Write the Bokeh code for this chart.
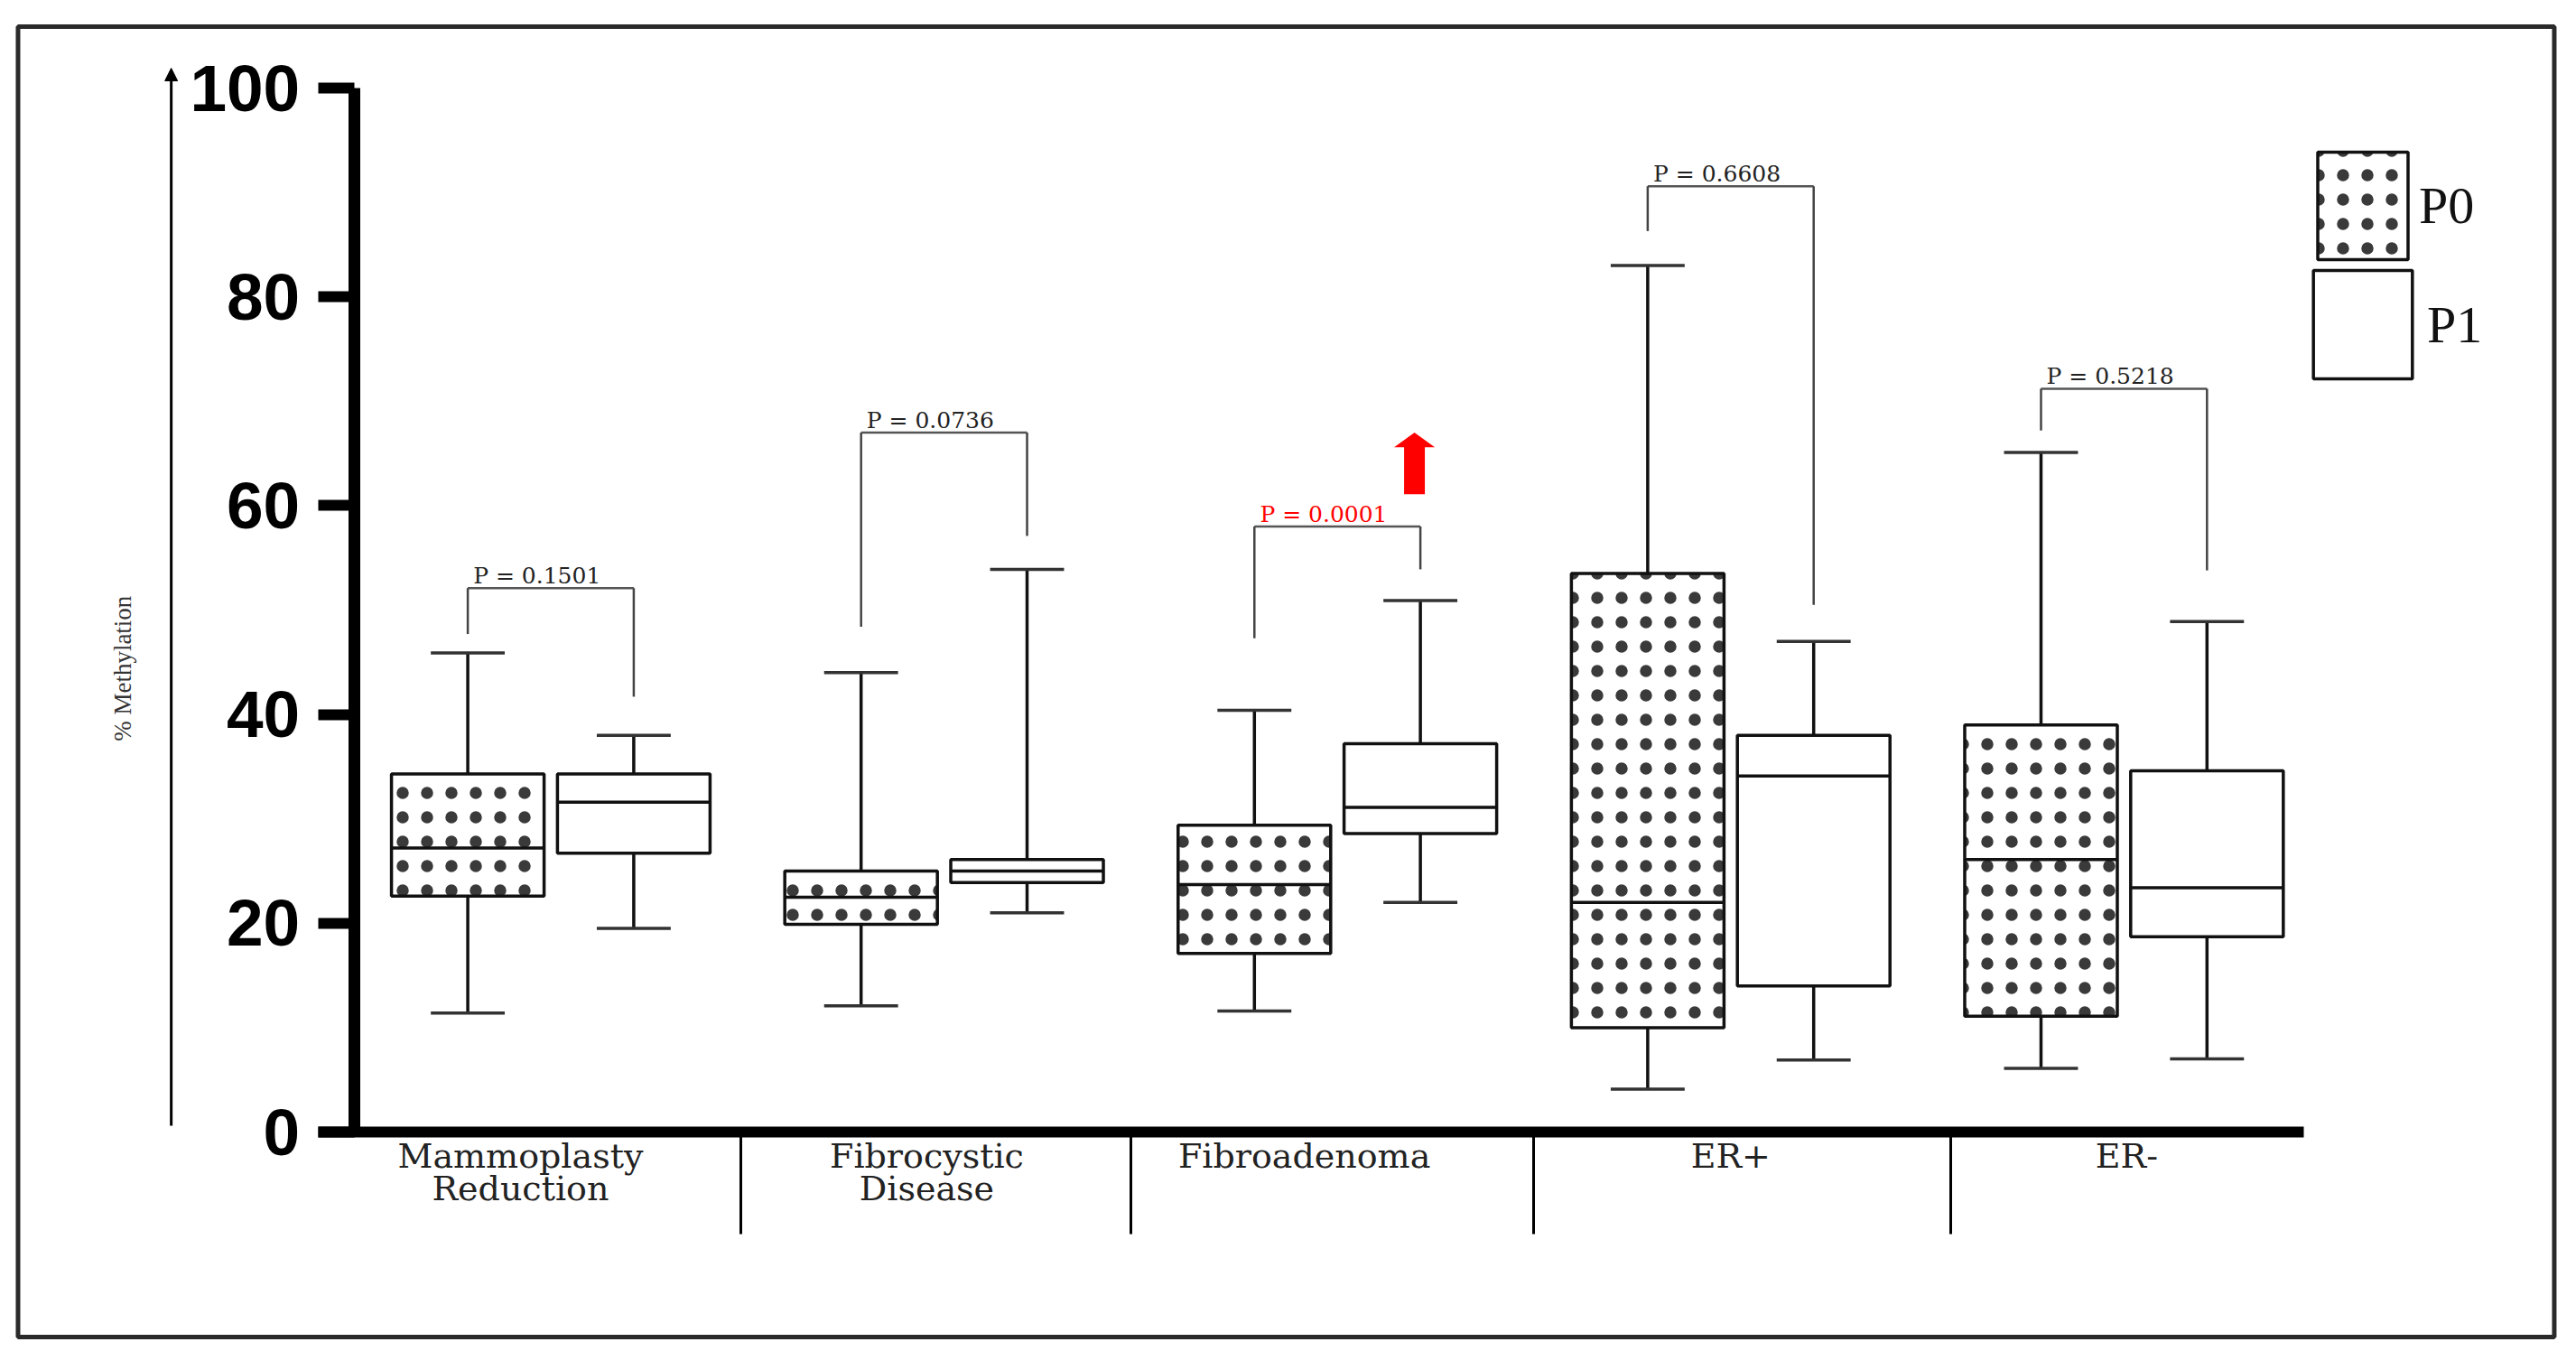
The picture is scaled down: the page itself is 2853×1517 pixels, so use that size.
import math
from bokeh.plotting import figure
from bokeh.models import (LinearAxis, FixedTicker, Range1d, ColumnDataSource, Arrow,
                          NormalHead, Legend, LegendItem, CustomJSTickFormatter)
from bokeh.core.properties import value
from bokeh.embed import file_html
from bokeh.resources import INLINE

# ---------------- data ----------------
categories = ["Mammoplasty\nReduction", "Fibrocystic\nDisease", "Fibroadenoma", "ER+", "ER-"]
series = ["P0", "P1"]

p0_min = [11.4, 12.1, 11.6, 4.1, 6.1]
p0_q1 = [22.6, 19.9, 17.1, 10.0, 11.1]
p0_med = [27.2, 22.5, 23.7, 22.0, 26.1]
p0_q3 = [34.3, 25.0, 29.4, 53.5, 39.0]
p0_max = [45.9, 44.0, 40.4, 83.0, 65.1]

p1_min = [19.5, 21.0, 22.0, 6.9, 7.0]
p1_q1 = [26.7, 23.9, 28.6, 14.0, 18.7]
p1_med = [31.6, 25.0, 31.1, 34.1, 23.4]
p1_q3 = [34.3, 26.1, 37.2, 38.0, 34.6]
p1_max = [38.0, 53.9, 50.9, 47.0, 48.9]

p_labels = ["P = 0.1501", "P = 0.0736", "P = 0.0001", "P = 0.6608", "P = 0.5218"]
bracket_top = [52.1, 67.0, 58.0, 90.6, 71.2]
bracket_left_end = [47.7, 48.4, 47.3, 86.3, 67.2]
bracket_right_end = [41.7, 57.1, 53.9, 50.5, 53.8]
significant = [False, False, True, False, False]

y_ticks = [0, 20, 40, 60, 80, 100]
y_title = "% Methylation"

# ---------------- layout constants ----------------
OFF = 0.211
BOX_W = 0.388
CAP_W = 0.188
label_dx = [-0.077, -0.044, -0.084, 0.0, 0.007]
dividers = [0.484, 1.474, 2.498, 3.559]

W, H = 2837, 1501
p = figure(width=W, height=H, output_backend="svg", toolbar_location=None,
           x_range=Range1d(-1.39922, 5.11364), y_range=Range1d(-21.453, 108.391),
           x_axis_type=None, y_axis_type=None,
           min_border=0, min_border_left=0, min_border_right=0,
           min_border_top=0, min_border_bottom=0,
           outline_line_color=None, background_fill_color="white",
           border_fill_color="white")

# outer frame border
p.quad(left=[-1.3545], right=[5.094], top=[105.88], bottom=[-19.64],
       fill_alpha=0, line_color="#2a2a2a", line_width=5)

# y axis
yaxis = LinearAxis(fixed_location=-0.5, bounds=(0, 100), ticker=FixedTicker(ticks=y_ticks))
yaxis.axis_line_width = 13
yaxis.axis_line_color = "black"
yaxis.major_tick_out = 40
yaxis.major_tick_in = 0
yaxis.major_tick_line_width = 12
yaxis.minor_tick_out = 0
yaxis.minor_tick_in = 0
yaxis.major_label_standoff = 20
yaxis.major_label_text_font = "Liberation Sans"
yaxis.major_label_text_font_style = "bold"
yaxis.major_label_text_font_size = "73px"
yaxis.major_label_text_color = "black"
p.add_layout(yaxis, "left")

# x axis (with category dividers as long ticks)
xaxis = LinearAxis(fixed_location=0, bounds=(-0.5906, 4.457), ticker=FixedTicker(ticks=dividers))
xaxis.axis_line_width = 12
xaxis.axis_line_color = "black"
xaxis.major_tick_out = 113
xaxis.major_tick_in = 0
xaxis.major_tick_line_width = 3
xaxis.minor_tick_out = 0
xaxis.minor_tick_in = 0
xaxis.formatter = CustomJSTickFormatter(code="return ''")
p.add_layout(xaxis, "below")

# y axis arrow and title
p.add_layout(Arrow(end=NormalHead(size=14, fill_color="black", line_color="black"),
                   x_start=-0.965, y_start=0.6, x_end=-0.965, y_end=101.9,
                   line_width=3, line_color="black"))
p.text(x=[-1.0893], y=[44.4], text=[y_title], angle=math.pi / 2,
       text_align="center", text_baseline="middle",
       text_font=value("Liberation Serif"), text_font_size="27px", text_color="#333333")

# category labels
idx = list(range(len(categories)))
p.text(x=[i + d for i, d in zip(idx, label_dx)], y=[-0.4] * len(categories), text=categories,
       text_align="center", text_baseline="top", text_line_height=0.82,
       text_font=value("DejaVu Serif"), text_font_size="38px", text_color="#222222")

# boxes
def box_source(offset, mn, q1, med, q3, mx):
    xs = [i + offset for i in idx]
    return ColumnDataSource(dict(
        x=xs, mn=mn, q1=q1, med=med, q3=q3, mx=mx,
        xl=[x - BOX_W / 2 for x in xs], xr=[x + BOX_W / 2 for x in xs],
        cl=[x - CAP_W / 2 for x in xs], cr=[x + CAP_W / 2 for x in xs]))

renderers = []
for k, (offset, data, hatch) in enumerate([
        (-OFF, (p0_min, p0_q1, p0_med, p0_q3, p0_max), "dot"),
        (OFF, (p1_min, p1_q1, p1_med, p1_q3, p1_max), None)]):
    src = box_source(offset, *data)
    p.segment(x0="x", y0="q3", x1="x", y1="mx", source=src, line_color="#111111", line_width=3.5)
    p.segment(x0="x", y0="q1", x1="x", y1="mn", source=src, line_color="#111111", line_width=3.5)
    p.segment(x0="cl", y0="mx", x1="cr", y1="mx", source=src, line_color="#333333", line_width=3.5)
    p.segment(x0="cl", y0="mn", x1="cr", y1="mn", source=src, line_color="#333333", line_width=3.5)
    kw = dict(fill_color="white", line_color="#111111", line_width=3.5)
    if hatch:
        kw.update(hatch_pattern=hatch, hatch_color="#3a3a3a", hatch_scale=27, hatch_weight=1.5)
    r = p.vbar(x="x", width=BOX_W, top="q3", bottom="q1", source=src, **kw)
    renderers.append(r)
    p.segment(x0="xl", y0="med", x1="xr", y1="med", source=src, line_color="#111111", line_width=3.5)

# significance brackets
bl = [i - OFF for i in idx]
br = [i + OFF for i in idx]
p.segment(x0=bl, y0=bracket_top, x1=br, y1=bracket_top, line_color="#555555", line_width=2.5)
p.segment(x0=bl, y0=bracket_top, x1=bl, y1=bracket_left_end, line_color="#444444", line_width=2.5)
p.segment(x0=br, y0=bracket_top, x1=br, y1=bracket_right_end, line_color="#444444", line_width=2.5)
p.text(x=[x + 0.014 for x in bl], y=[t + 1.2 for t in bracket_top], text=p_labels,
       text_color=["#ff0000" if s else "#222222" for s in significant],
       text_align="left", text_baseline="alphabetic",
       text_font=value("DejaVu Serif"), text_font_size="25px")

# red up-arrow over the significant group
for i, s in enumerate(significant):
    if s:
        ax = i + OFF - 0.015
        p.vbar(x=[ax], width=0.0528, top=[65.8], bottom=[61.1], fill_color="#ff0000", line_color=None)
        p.patch(x=[ax - 0.0517, ax + 0.0517, ax], y=[65.6, 65.6, 67.0],
                fill_color="#ff0000", line_color=None)

# legend (one legend per entry so each swatch can be placed exactly)
legend_common = dict(orientation="vertical", padding=0, margin=0, spacing=0,
                     label_text_font="Liberation Serif", label_text_font_size="58px",
                     label_text_color="#111111", border_line_color=None,
                     background_fill_alpha=0)
leg0 = Legend(items=[LegendItem(label=series[0], renderers=[renderers[0]])],
              location=(2554, 1199), glyph_width=125, glyph_height=149,
              label_standoff=0, **legend_common)
leg1 = Legend(items=[LegendItem(label=series[1], renderers=[renderers[1]])],
              location=(2548, 1067), glyph_width=137, glyph_height=150,
              label_standoff=3, **legend_common)
p.add_layout(leg0)
p.add_layout(leg1)

open("out.html", "w").write(file_html(p, INLINE))
